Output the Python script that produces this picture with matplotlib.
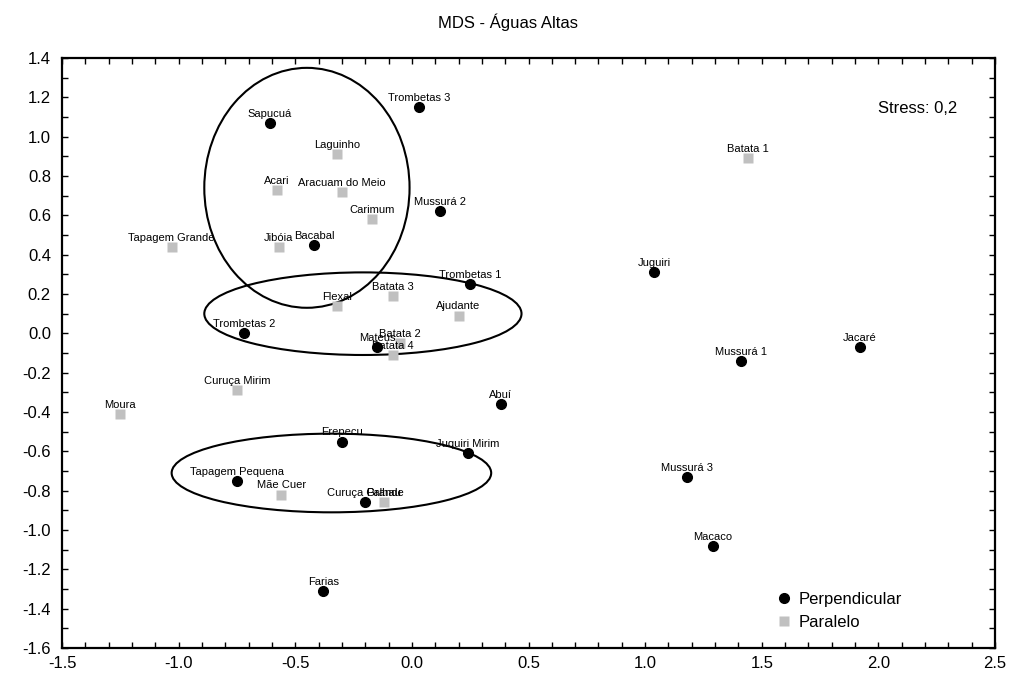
import matplotlib.pyplot as plt
from matplotlib.patches import Ellipse
from matplotlib.ticker import MultipleLocator, FormatStrFormatter

plt.rcParams['font.family'] = ['Liberation Sans', 'DejaVu Sans']

# MDS coordinates - perpendicular sites
perp_names = ["Sapucuá", "Trombetas 3", "Mussurá 2", "Bacabal", "Trombetas 1",
              "Juguiri", "Trombetas 2", "Mateus", "Jacaré", "Mussurá 1", "Abuí",
              "Erepecu", "Juquiri Mirim", "Tapagem Pequena", "Curuça Grande",
              "Mussurá 3", "Macaco", "Farias"]
perp_x = [-0.61, 0.03, 0.12, -0.42, 0.25, 1.04, -0.72, -0.15, 1.92, 1.41, 0.38,
          -0.30, 0.24, -0.75, -0.20, 1.18, 1.29, -0.38]
perp_y = [1.07, 1.15, 0.62, 0.45, 0.25, 0.31, 0.00, -0.07, -0.07, -0.14, -0.36,
          -0.55, -0.61, -0.75, -0.86, -0.73, -1.08, -1.31]

# MDS coordinates - parallel sites
par_names = ["Laguinho", "Batata 1", "Acari", "Aracuam do Meio", "Carimum",
             "Tapagem Grande", "Jibóia", "Batata 3", "Flexal", "Ajudante",
             "Batata 2", "Batata 4", "Curuça Mirim", "Moura", "Mãe Cuer", "Palhau"]
par_x = [-0.32, 1.44, -0.58, -0.30, -0.17, -1.03, -0.57, -0.08, -0.32, 0.20,
         -0.05, -0.08, -0.75, -1.25, -0.56, -0.12]
par_y = [0.91, 0.89, 0.73, 0.72, 0.58, 0.44, 0.44, 0.19, 0.14, 0.09,
         -0.05, -0.11, -0.29, -0.41, -0.82, -0.86]

fig = plt.figure(figsize=(10.15, 6.77), dpi=100)
ax = fig.add_axes([0.0611, 0.0428, 0.9192, 0.8715])

ax.plot(perp_x, perp_y, 'o', color='black', ms=7, label='Perpendicular', zorder=3)
ax.plot(par_x, par_y, 's', color='#c0c0c0', ms=7, mec='none', label='Paralelo', zorder=3)

for n, x, y in zip(perp_names, perp_x, perp_y):
    ax.annotate(n, (x, y), xytext=(0, 3), textcoords='offset points',
                ha='center', va='bottom', fontsize=8, zorder=4)
for n, x, y in zip(par_names, par_x, par_y):
    ax.annotate(n, (x, y), xytext=(0, 3), textcoords='offset points',
                ha='center', va='bottom', fontsize=8, zorder=4)

# groups
for cx, cy, w, h in [(-0.45, 0.74, 0.88, 1.22), (-0.21, 0.10, 1.36, 0.42),
                     (-0.345, -0.71, 1.37, 0.40)]:
    ax.add_patch(Ellipse((cx, cy), w, h, fill=False, ec='black', lw=1.5, zorder=2))

ax.set_xlim(-1.5, 2.5)
ax.set_ylim(-1.6, 1.4)
ax.xaxis.set_major_locator(MultipleLocator(0.5))
ax.xaxis.set_minor_locator(MultipleLocator(0.1))
ax.yaxis.set_major_locator(MultipleLocator(0.2))
ax.yaxis.set_minor_locator(MultipleLocator(0.1))
ax.xaxis.set_major_formatter(FormatStrFormatter('%.1f'))
ax.yaxis.set_major_formatter(FormatStrFormatter('%.1f'))
ax.tick_params(which='both', direction='in', top=True, right=True, length=4, width=1)
ax.tick_params(axis='x', labelsize=12, pad=6)
ax.tick_params(axis='y', labelsize=12, pad=8)
for s in ax.spines.values():
    s.set_linewidth(1.6)

ax.text(0.875, 0.915, "Stress: 0,2", transform=ax.transAxes, fontsize=12,
        ha='left', va='center')
ax.legend(loc='lower left', frameon=False, fontsize=12, handlelength=1.2,
          handletextpad=0.3, labelspacing=0.5, borderpad=0, borderaxespad=0,
          bbox_to_anchor=(0.763, 0.03))

fig.text(0.5, 0.967, "MDS - Águas Altas", ha='center', va='center', fontsize=12)

fig.savefig('out.png', dpi=100)
